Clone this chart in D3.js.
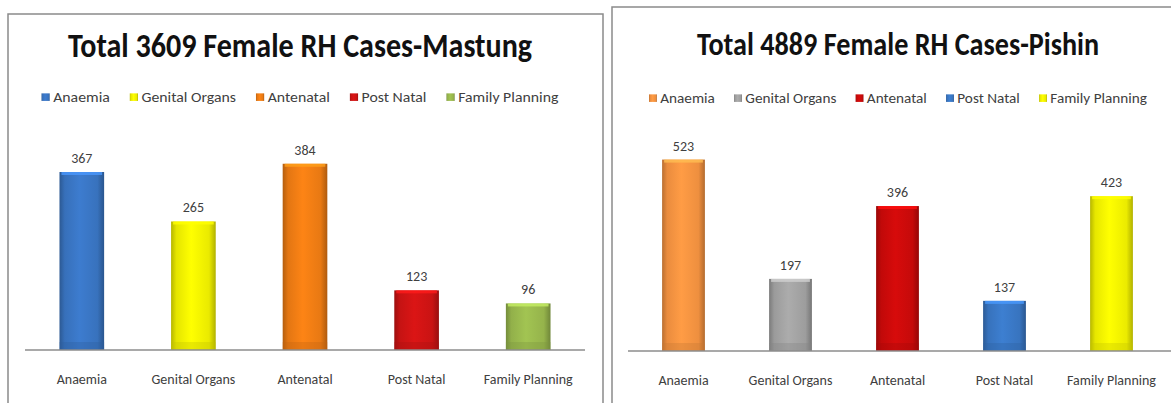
<!DOCTYPE html>
<html>
<head>
<meta charset="utf-8">
<script src="https://cdn.jsdelivr.net/npm/d3@7"></script>
<style>
  html, body { margin: 0; padding: 0; background: #fff; }
  svg { display: block; font-family: Carlito, Lato, "Liberation Sans", sans-serif; }
</style>
</head>
<body>
<svg id="chart" width="1171" height="403"></svg>
<script>
// Data
const categories = ["Anaemia", "Genital Organs", "Antenatal", "Post Natal", "Family Planning"];

const mastungTitle = "Total 3609 Female RH Cases-Mastung";
const mastungValues = [367, 265, 384, 123, 96];
const mastungColors = ["#3a76c4", "#f2f200", "#f07d14", "#d01414", "#9aba4e"];

const pishinTitle = "Total 4889 Female RH Cases-Pishin";
const pishinValues = [523, 197, 396, 137, 423];
const pishinColors = ["#f79441", "#a3a3a3", "#cc0a0a", "#3a78c6", "#f4f400"];

const svg = d3.select("#chart");
const defs = svg.append("defs");

// horizontal shading for 2007-style bars
function barGradient(id, color) {
  const c = d3.color(color);
  const g = defs.append("linearGradient").attr("id", id)
    .attr("x1", "0").attr("x2", "1").attr("y1", "0").attr("y2", "0");
  g.append("stop").attr("offset", "0%").attr("stop-color", c.darker(0.8));
  g.append("stop").attr("offset", "12%").attr("stop-color", c.darker(0.15));
  g.append("stop").attr("offset", "45%").attr("stop-color", c.brighter(0.15));
  g.append("stop").attr("offset", "85%").attr("stop-color", c.darker(0.1));
  g.append("stop").attr("offset", "100%").attr("stop-color", c.darker(0.9));
  return `url(#${id})`;
}

function drawPanel(cfg) {
  const g = svg.append("g");

  // panel frame
  g.append("rect")
    .attr("x", cfg.frame[0]).attr("y", cfg.frame[1])
    .attr("width", cfg.frame[2]).attr("height", cfg.frame[3])
    .attr("fill", "#fff")
    .attr("stroke", "#8a8a8a")
    .attr("stroke-width", 1.5);

  // title, fitted to the width seen in the picture (Calibri is taller, so stretch a bit)
  const title = g.append("text")
    .attr("transform", `translate(${cfg.cx},${cfg.titleY}) scale(1,1.17)`)
    .attr("text-anchor", "middle")
    .attr("font-weight", "bold")
    .attr("font-size", "25px")
    .attr("fill", "#111")
    .text(cfg.title);
  const tw = title.node().getComputedTextLength();
  title.attr("font-size", (25 * cfg.titleW / tw).toFixed(2) + "px");

  // legend
  const legend = g.append("g");
  let lx = 0;
  categories.forEach((name, i) => {
    const item = legend.append("g").attr("transform", `translate(${lx},0)`);
    item.append("rect")
      .attr("x", 0).attr("y", -8).attr("width", 7).attr("height", 7)
      .attr("fill", barGradient(`${cfg.id}-lg${i}`, cfg.colors[i]));
    const t = item.append("text")
      .attr("x", 10).attr("y", 0)
      .attr("font-size", "13.5px")
      .attr("fill", "#404040")
      .text(name);
    lx += 10 + t.node().getComputedTextLength() + 17;
  });
  const lw = lx - 17;
  const scaleL = cfg.legendW / lw;
  legend.attr("transform", `translate(${cfg.cx - cfg.legendW / 2},${cfg.legendY}) scale(${scaleL},1.08)`);

  const x = d3.scaleBand()
    .domain(categories)
    .range(cfg.xRange)
    .paddingInner(0.6)
    .paddingOuter(0.3);

  const y = d3.scaleLinear()
    .domain(cfg.yDomain)
    .range(cfg.yRange);

  const data = categories.map((c, i) => ({ cat: c, value: cfg.values[i], color: cfg.colors[i], i }));

  const bars = g.selectAll(".bar").data(data).join("g");

  bars.append("rect")
    .attr("x", d => x(d.cat))
    .attr("y", d => y(d.value))
    .attr("width", x.bandwidth())
    .attr("height", d => y(0) - y(d.value))
    .attr("fill", d => barGradient(`${cfg.id}-b${d.i}`, d.color));

  // light cap on top of each bar
  bars.append("rect")
    .attr("x", d => x(d.cat) + 2)
    .attr("y", d => y(d.value))
    .attr("width", x.bandwidth() - 4)
    .attr("height", 3)
    .attr("fill", d => d3.color(d.color).brighter(0.7))
    .attr("opacity", 0.8);

  // slightly darker foot
  bars.append("rect")
    .attr("x", d => x(d.cat))
    .attr("y", y(0) - 8)
    .attr("width", x.bandwidth())
    .attr("height", 8)
    .attr("fill", d => d3.color(d.color).darker(0.6))
    .attr("opacity", 0.35);

  // value labels
  bars.append("text")
    .attr("x", d => x(d.cat) + x.bandwidth() / 2)
    .attr("y", d => y(d.value) - 9)
    .attr("text-anchor", "middle")
    .attr("font-size", "14px")
    .attr("fill", "#404040")
    .text(d => d.value);

  // category axis
  const axis = g.append("g")
    .attr("transform", `translate(0,${y(0)})`)
    .call(d3.axisBottom(x).tickSize(0).tickPadding(24));
  axis.attr("font-family", null).attr("font-size", null);
  axis.select(".domain").remove();
  axis.selectAll("text")
    .attr("font-size", "14px")
    .attr("fill", "#404040");
  g.append("line")
    .attr("x1", cfg.axisX[0]).attr("x2", cfg.axisX[1])
    .attr("y1", y(0)).attr("y2", y(0))
    .attr("stroke", "#8c8c8c")
    .attr("stroke-width", 1.5);
}

drawPanel({
  id: "mastung",
  title: mastungTitle,
  values: mastungValues,
  colors: mastungColors,
  frame: [8, 14, 595, 420],
  cx: 300, titleY: 57, titleW: 464,
  legendY: 102, legendW: 517,
  xRange: [26, 584],
  axisX: [25, 585],
  yDomain: [0, 400], yRange: [350, 156]
});

drawPanel({
  id: "pishin",
  title: pishinTitle,
  values: pishinValues,
  colors: pishinColors,
  frame: [612, 7, 600, 420],
  cx: 898, titleY: 55, titleW: 402,
  legendY: 103, legendW: 498,
  xRange: [630, 1165],
  axisX: [628, 1171],
  yDomain: [0, 550], yRange: [351, 149.7]
});
</script>
</body>
</html>
